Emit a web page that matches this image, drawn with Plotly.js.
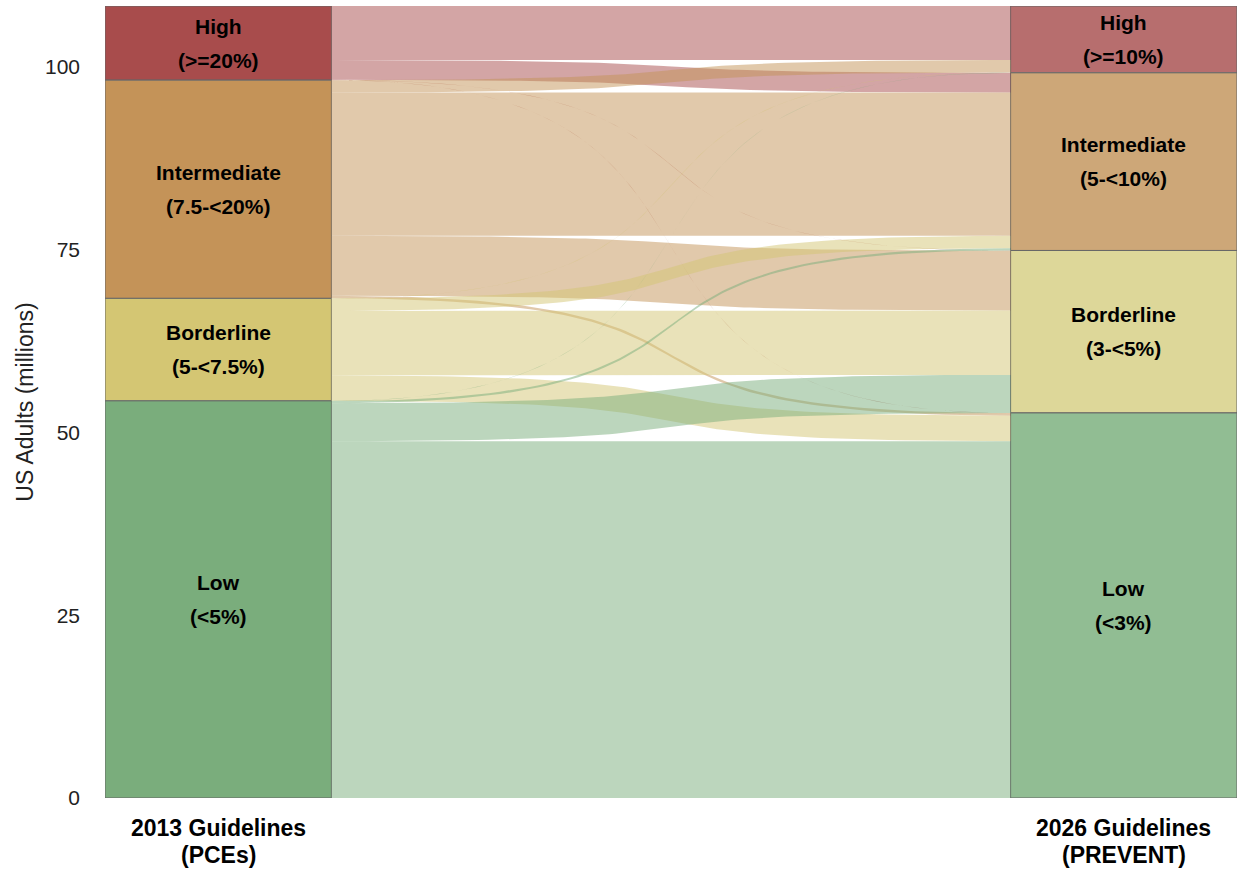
<!DOCTYPE html>
<html>
<head>
<meta charset="utf-8">
<script src="https://cdn.plot.ly/plotly-3.0.1.min.js"></script>
<style>html,body{margin:0;padding:0;background:#fff;}#chart{width:1237px;height:871px;}</style>
</head>
<body>
<div id="chart"></div>
<script>
// ---- data (millions of US adults) ----
const strata = ["High", "Intermediate", "Borderline", "Low"];
const leftRanges = ["(>=20%)", "(7.5-<20%)", "(5-<7.5%)", "(<5%)"];
const rightRanges = ["(>=10%)", "(5-<10%)", "(3-<5%)", "(<3%)"];
const axisTitles = ["2013 Guidelines", "2026 Guidelines"];
const axisSubtitles = ["(PCEs)", "(PREVENT)"];
const yTicks = [0, 25, 50, 75, 100];
// flows from each 2013 stratum to 2026 strata [High, Intermediate, Borderline, Low]
const fromHigh = [7.4, 2.7, 0.02, 0.02];
const fromIntermediate = [1.7, 19.6, 8.2, 0.35];
const fromBorderline = [0.02, 1.7, 8.8, 3.5];
const fromLow = [0.02, 0.3, 5.2, 48.8];
const leftColors = ["#a84c4c", "#c49358", "#d4c673", "#7aad7c"];
const rightColors = ["#b76e6e", "#cda778", "#ddd799", "#91bd93"];

// ---- build ----
const flows = [fromHigh, fromIntermediate, fromBorderline, fromLow];
const n = strata.length;
const leftTot = flows.map(r => r.reduce((a, b) => a + b, 0));
const rightTot = strata.map((_, j) => flows.reduce((a, r) => a + r[j], 0));
const total = leftTot.reduce((a, b) => a + b, 0);

function stackTops(tots) {
  const tops = []; let c = total;
  for (const t of tots) { tops.push(c); c -= t; }
  return tops;
}
const leftTop = stackTops(leftTot), rightTop = stackTops(rightTot);

const halfW = 0.125, xL = 1 + halfW, xR = 2 - halfW, k = 0.7;
function hex2rgba(h, a) {
  const v = parseInt(h.slice(1), 16);
  return `rgba(${(v >> 16) & 255},${(v >> 8) & 255},${v & 255},${a})`;
}
function edge(yA, yB, reverse) {
  const xs = [], ys = [], N = 80;
  for (let i = 0; i <= N; i++) {
    const s = i / N;
    const bx = 3 * (1 - s) * (1 - s) * s * k + 3 * (1 - s) * s * s * (1 - k) + s * s * s;
    const by = 3 * s * s - 2 * s * s * s;
    xs.push(xL + (xR - xL) * bx); ys.push(yA + (yB - yA) * by);
  }
  if (reverse) { xs.reverse(); ys.reverse(); }
  return [xs, ys];
}

const traces = [];
// right positions: incoming ordered by source
const rStart = [];
for (let i = 0; i < n; i++) rStart.push([]);
for (let j = 0; j < n; j++) { let c = rightTop[j]; for (let i = 0; i < n; i++) { rStart[i][j] = c; c -= flows[i][j]; } }
for (let i = 0; i < n; i++) {
  let c = leftTop[i];
  for (let j = 0; j < n; j++) {
    const v = flows[i][j];
    const lt = c, lb = c - v, rt = rStart[i][j], rb = rt - v;
    c = lb;
    const [x1, y1] = edge(lt, rt, false);
    const [x2, y2] = edge(lb, rb, true);
    traces.push({
      type: "scatter", mode: "lines", x: x1.concat(x2), y: y1.concat(y2),
      fill: "toself", fillcolor: hex2rgba(leftColors[i], 0.5),
      line: { width: 0 }, hoverinfo: "skip", showlegend: false
    });
  }
}
// strata boxes
for (let i = 0; i < n; i++) {
  traces.push({
    type: "bar", x: [1, 2], y: [leftTot[i], rightTot[i]],
    base: [leftTop[i] - leftTot[i], rightTop[i] - rightTot[i]],
    width: 2 * halfW, marker: { color: [leftColors[i], rightColors[i]], line: { color: "#666666", width: 1 } },
    hoverinfo: "skip", showlegend: false
  });
}
const FONT = "Liberation Sans, Arial, Helvetica, sans-serif";
const annotations = [];
for (let i = 0; i < n; i++) {
  const cL = leftTop[i] - leftTot[i] / 2, cR = rightTop[i] - rightTot[i] / 2;
  [[1, cL, leftRanges[i]], [2, cR, rightRanges[i]]].forEach(([x, y, r]) => {
    annotations.push({ x: x, y: y, text: "<b>" + strata[i] + "</b>", showarrow: false, yshift: 17, font: { size: 21, color: "#000", family: FONT } });
    annotations.push({ x: x, y: y, text: "<b>" + r + "</b>", showarrow: false, yshift: -17, font: { size: 21, color: "#000", family: FONT } });
  });
}
for (let c = 0; c < 2; c++) {
  annotations.push({ x: c + 1, xref: "x", y: 0, yref: "paper", yanchor: "middle", yshift: -30, text: "<b>" + axisTitles[c] + "</b>", showarrow: false, font: { size: 23, color: "#000", family: FONT } });
  annotations.push({ x: c + 1, xref: "x", y: 0, yref: "paper", yanchor: "middle", yshift: -57, text: "<b>" + axisSubtitles[c] + "</b>", showarrow: false, font: { size: 23, color: "#000", family: FONT } });
}

const layout = {
  width: 1237, height: 871,
  margin: { l: 105, r: 0, t: 6, b: 73 },
  paper_bgcolor: "#fff", plot_bgcolor: "#fff",
  font: { family: FONT, color: "#000" },
  barmode: "overlay",
  xaxis: {
    range: [1 - halfW, 2 + halfW], showgrid: false, zeroline: false, showline: false,
    showticklabels: false, ticks: "", fixedrange: true
  },
  yaxis: {
    range: [0, total], showgrid: false, zeroline: false, showline: false,
    tickvals: yTicks, ticks: "", ticklabelstandoff: 24,
    tickfont: { size: 21, color: "#222" },
    title: { text: "US Adults (millions)", font: { size: 23, color: "#222" }, standoff: 4 },
    fixedrange: true
  },
  annotations: annotations,
  showlegend: false
};
Plotly.newPlot("chart", traces, layout, { staticPlot: true });
</script>
</body>
</html>
